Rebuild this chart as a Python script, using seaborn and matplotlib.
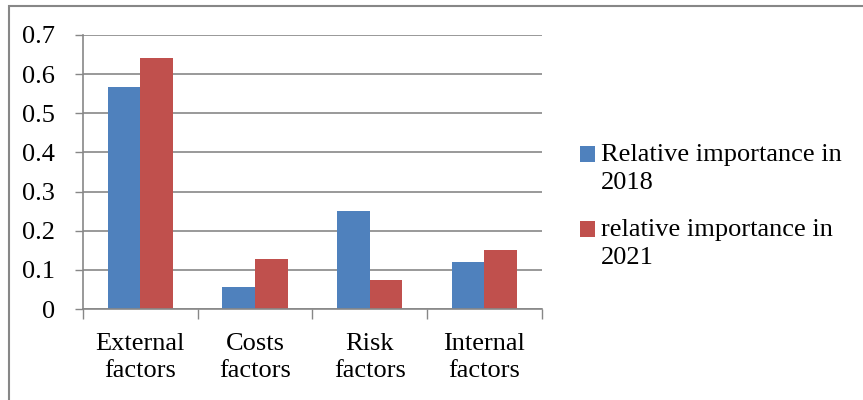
import numpy as np
import pandas as pd
import matplotlib
matplotlib.use("Agg")
import matplotlib.pyplot as plt
import matplotlib.patches as mpatches
from matplotlib.legend_handler import HandlerPatch
import seaborn as sns

# Chart data
categories = ["External\nfactors", "Costs\nfactors", "Risk\nfactors", "Internal\nfactors"]
series_names = ["Relative importance in\n2018", "relative importance in\n2021"]
values_2018 = [0.568, 0.057, 0.25, 0.119]
values_2021 = [0.642, 0.128, 0.073, 0.152]
y_ticks = [0, 0.1, 0.2, 0.3, 0.4, 0.5, 0.6, 0.7]
y_tick_labels = ["0", "0.1", "0.2", "0.3", "0.4", "0.5", "0.6", "0.7"]

colors = ["#4F81BD", "#C0504D"]
GRID = "#878787"
FS = 19

sns.set_style("white")
plt.rcParams['font.family'] = ['Liberation Serif', 'DejaVu Serif']
plt.rcParams['text.color'] = 'black'

# Long format table for seaborn
df = pd.DataFrame({
    "factor": categories * 2,
    "value": values_2018 + values_2021,
    "series": [series_names[0]] * len(categories) + [series_names[1]] * len(categories),
})

fig = plt.figure(figsize=(8.63, 4.0), dpi=100)
ax = fig.add_axes([83 / 863, 1 - 309 / 400, (541.7 - 83) / 863, (309 - 35) / 400])

sns.barplot(data=df, x="factor", y="value", hue="series", order=categories,
            hue_order=series_names, palette=colors, saturation=1, width=0.57,
            linewidth=0, ax=ax)

ax.set_xlim(-0.5, 3.5)
ax.set_ylim(0, 0.7)
ax.set_xlabel("")
ax.set_ylabel("")

# y axis
ax.set_yticks(y_ticks)
ax.set_yticklabels(y_tick_labels, fontsize=FS)
ax.tick_params(axis="y", direction="out", length=6, width=1, color=GRID, labelcolor="black",
               pad=14, left=True)
ax.yaxis.grid(True, color=GRID, linewidth=1.2)
ax.set_axisbelow(True)

# x axis: labels at centres, tick marks at category boundaries
ax.set_xticks(range(len(categories)))
ax.set_xticklabels(categories, fontsize=FS, linespacing=1.3)
ax.set_xticks(np.arange(-0.5, len(categories), 1.0), minor=True)
ax.tick_params(axis="x", which="major", length=0, pad=17, labelcolor="black")
ax.tick_params(axis="x", which="minor", direction="out", length=7, width=1, color=GRID, bottom=True)

for side in ["top", "right"]:
    ax.spines[side].set_visible(False)
for side in ["left", "bottom"]:
    ax.spines[side].set_color(GRID)
    ax.spines[side].set_linewidth(1.2)


# legend square sits next to the first line of each label
def top_square(legend, orig_handle, xdescent, ydescent, width, height, fontsize):
    return mpatches.Rectangle((-xdescent, -ydescent + 0.55 * fontsize), width, height)


handles, labels = ax.get_legend_handles_labels()
leg = ax.legend(handles, labels, loc="upper left", bbox_to_anchor=(580 / 863, 1 - 144 / 400),
                bbox_transform=fig.transFigure, frameon=False, fontsize=FS,
                handlelength=0.55, handleheight=0.55, handletextpad=0.25,
                labelspacing=0.95, borderaxespad=0, borderpad=0,
                handler_map={mpatches.Rectangle: HandlerPatch(patch_func=top_square)})
for t in leg.get_texts():
    t.set_linespacing(1.35)
    t.set_color("black")

# outer frame of the picture
frame = mpatches.Rectangle((9 / 863, -0.2), 1.2, 1.2 - 6 / 400, transform=fig.transFigure,
                           fill=False, edgecolor=GRID, linewidth=1.5, clip_on=False)
fig.add_artist(frame)

fig.savefig("out.png", dpi=100)
